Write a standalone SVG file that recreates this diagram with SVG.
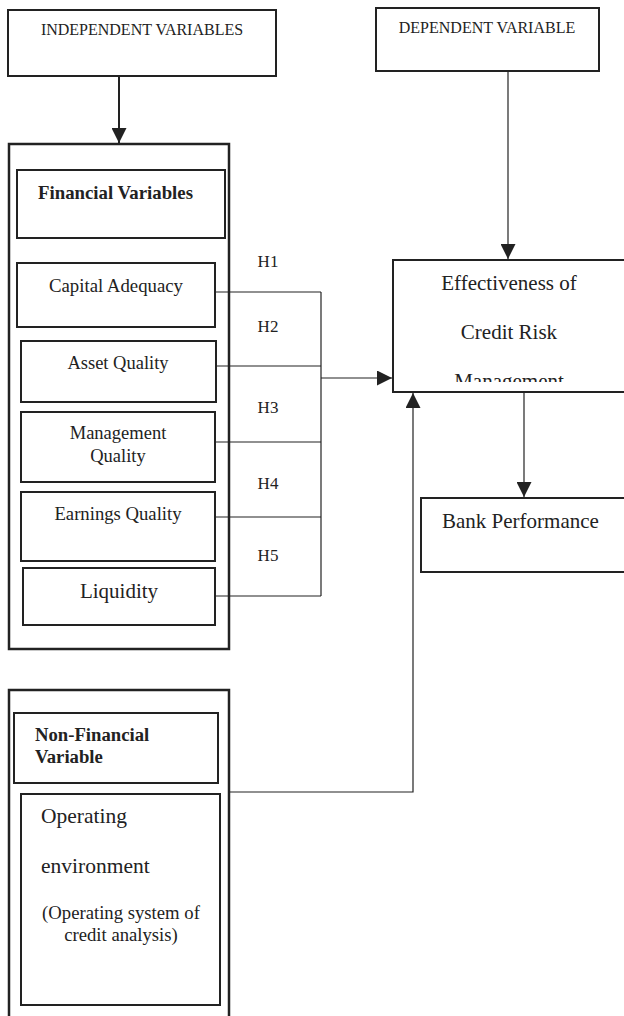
<svg xmlns="http://www.w3.org/2000/svg" width="624" height="1016" viewBox="0 0 624 1016">
<style>
.box{fill:#fff;stroke:#222;stroke-width:2}
.thick{fill:none;stroke:#222;stroke-width:2.5}
.ln{fill:none;stroke:#222;stroke-width:1.2}
text{font-family:"Liberation Serif","Times New Roman",serif;fill:#222}
.b{font-weight:bold}
</style>
<defs>
<marker id="ah" viewBox="0 0 15 15" refX="15" refY="7.5" markerWidth="15" markerHeight="15" markerUnits="userSpaceOnUse" orient="auto">
<path d="M0,0 L15,7.5 L0,15 Z" fill="#222"/>
</marker>
<clipPath id="effclip"><rect x="393" y="260" width="240" height="122"/></clipPath>
</defs>
<g id="connectors">
<line class="ln" x1="119" y1="76" x2="119" y2="143" marker-end="url(#ah)" style="stroke-width:2"/>
<line class="ln" x1="508" y1="71" x2="508" y2="259" marker-end="url(#ah)"/>
<polyline class="ln" points="215,292 321,292"/>
<polyline class="ln" points="216,366 321,366"/>
<polyline class="ln" points="215,442 321,442"/>
<polyline class="ln" points="215,517 321,517"/>
<polyline class="ln" points="215,596 321,596"/>
<line class="ln" x1="321" y1="292" x2="321" y2="596"/>
<line class="ln" x1="321" y1="378" x2="392" y2="378" marker-end="url(#ah)"/>
<polyline class="ln" points="229,792 413,792 413,393" marker-end="url(#ah)"/>
<line class="ln" x1="524" y1="392" x2="524" y2="497" marker-end="url(#ah)"/>
<text x="268" y="267" font-size="17" text-anchor="middle">H1</text>
<text x="268" y="332" font-size="17" text-anchor="middle">H2</text>
<text x="268" y="413" font-size="17" text-anchor="middle">H3</text>
<text x="268" y="489" font-size="17" text-anchor="middle">H4</text>
<text x="268" y="561" font-size="17" text-anchor="middle">H5</text>
</g>
<g id="independent">
<rect class="box" x="8" y="10" width="268" height="66"/>
<text x="142" y="35" font-size="16" text-anchor="middle">INDEPENDENT VARIABLES</text>
</g>
<g id="dependent">
<rect class="box" x="376" y="8" width="223" height="63"/>
<text x="487" y="33" font-size="16" text-anchor="middle">DEPENDENT VARIABLE</text>
</g>
<g id="financial-group">
<rect class="thick" x="9" y="144" width="220" height="505"/>
</g>
<g id="financial-variables">
<rect class="box" x="17" y="170" width="208" height="68"/>
<text x="38" y="199" font-size="18.8" class="b">Financial Variables</text>
</g>
<g id="capital-adequacy">
<rect class="box" x="17" y="263" width="198" height="64"/>
<text x="116" y="292" font-size="18.8" text-anchor="middle">Capital Adequacy</text>
</g>
<g id="asset-quality">
<rect class="box" x="21" y="341" width="195" height="61"/>
<text x="118" y="369" font-size="18.5" text-anchor="middle">Asset Quality</text>
</g>
<g id="management-quality">
<rect class="box" x="21" y="412" width="194" height="70"/>
<text x="118" y="439" font-size="18.5" text-anchor="middle">Management</text>
<text x="118" y="462" font-size="18.5" text-anchor="middle">Quality</text>
</g>
<g id="earnings-quality">
<rect class="box" x="21" y="492" width="194" height="69"/>
<text x="118" y="520" font-size="18.7" text-anchor="middle">Earnings Quality</text>
</g>
<g id="liquidity">
<rect class="box" x="23" y="568" width="192" height="57"/>
<text x="119" y="598" font-size="21" text-anchor="middle">Liquidity</text>
</g>
<g id="effectiveness">
<rect class="box" x="393" y="260" width="240" height="132"/>
<g clip-path="url(#effclip)">
<text x="509" y="290" font-size="21" text-anchor="middle">Effectiveness of</text>
<text x="509" y="339" font-size="21" text-anchor="middle">Credit Risk</text>
<text x="509" y="388" font-size="21" text-anchor="middle">Management</text>
</g>
</g>
<g id="bank-performance">
<rect class="box" x="421" y="498" width="212" height="74"/>
<text x="442" y="528" font-size="21">Bank Performance</text>
</g>
<g id="nonfinancial-group">
<rect class="thick" x="9" y="690" width="220" height="334"/>
</g>
<g id="nonfinancial-variable">
<rect class="box" x="14" y="713" width="204" height="70"/>
<text x="35" y="741" font-size="18.7" class="b">Non-Financial</text>
<text x="35" y="763" font-size="18.7" class="b">Variable</text>
</g>
<g id="operating-environment">
<rect class="box" x="21" y="794" width="199" height="211"/>
<text x="41" y="823" font-size="21.5">Operating</text>
<text x="41" y="873" font-size="21.5">environment</text>
<text x="121" y="919" font-size="18.7" text-anchor="middle">(Operating system of</text>
<text x="121" y="941" font-size="18.7" text-anchor="middle">credit analysis)</text>
</g>
</svg>
